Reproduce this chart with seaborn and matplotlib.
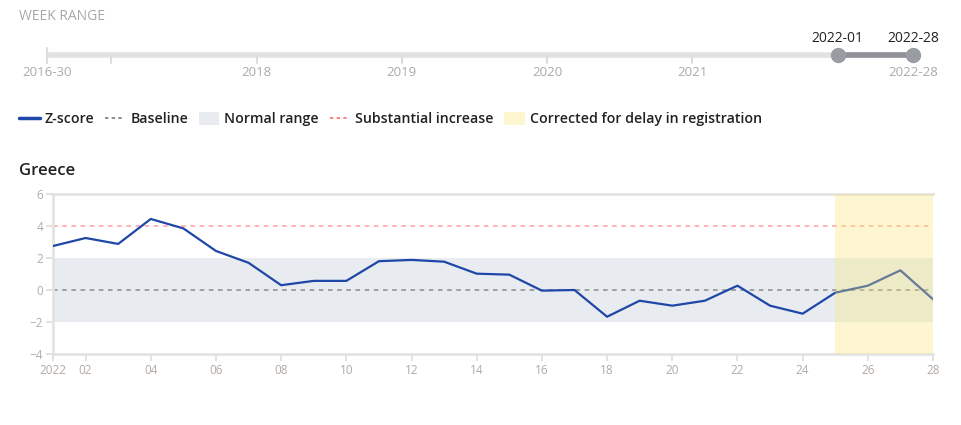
import matplotlib
matplotlib.use('Agg')
import matplotlib.pyplot as plt
import seaborn as sns
import pandas as pd
from matplotlib.lines import Line2D
from matplotlib.patches import Patch

# Z-score data, Greece, weeks 2022-01 .. 2022-28
weeks = list(range(1, 29))
zscore = [2.75, 3.25, 2.88, 4.44, 3.85, 2.44, 1.70, 0.30, 0.57, 0.57,
          1.80, 1.88, 1.77, 1.02, 0.96, -0.04, 0.00, -1.67, -0.67, -0.98,
          -0.67, 0.27, -0.98, -1.48, -0.17, 0.27, 1.23, -0.58]
tick_weeks = [1] + list(range(2, 29, 2))
tick_labels = ['2022'] + [f'{w:02d}' for w in range(2, 29, 2)]
normal_range = (-2, 2)
baseline = 0
substantial = 4
corrected_weeks = (25, 28)

# Week range slider (fractional years)
slider_start = 2016 + 29 / 52
slider_end = 2022 + 27 / 52
slider_years = [2017, 2018, 2019, 2020, 2021]
slider_labels = ['', '2018', '2019', '2020', '2021']
sel_start, sel_end = 2022.0, 2022 + 27 / 52
sel_labels = ['2022-01', '2022-28']

sns.set_style('white')
plt.rcParams['font.family'] = ['Open Sans', 'DejaVu Sans']

W, H = 961, 425
fig = plt.figure(figsize=(W / 100, H / 100), dpi=100)

tick_col = '#b3aaa3'
blue = '#1f47a8'

# Header text
fig.text(19 / W, 1 - 16 / H, 'WEEK RANGE', fontsize=10, color='#a8a8a8', va='center')

# Slider
ax_s = fig.add_axes([47 / W, 1 - 80 / H, (913 - 47) / W, 50 / H])
ax_s.set_xlim(slider_start, slider_end)
ax_s.set_ylim(80, 30)
ax_s.axis('off')
ax_s.plot([slider_start, slider_end], [55, 55], color='#e2e2e2', lw=4,
          solid_capstyle='butt', clip_on=False)
ax_s.plot([slider_start, slider_start], [48, 63], color='#dcdcdc', lw=1.5, clip_on=False)
for yr, lab in zip(slider_years, slider_labels):
    ax_s.plot([yr, yr], [57, 63], color='#dcdcdc', lw=1.5, clip_on=False)
    if lab:
        ax_s.text(yr, 72, lab, ha='center', va='center', fontsize=9.5, color='#aaaaaa')
ax_s.text(slider_start, 73, '2016-30', ha='center', va='center', fontsize=9.5, color='#aaaaaa')
ax_s.plot([sel_start, sel_end], [55, 55], color='#8f9197', lw=4, clip_on=False)
ax_s.plot([sel_start, sel_end], [55, 55], 'o', color='#9a9ca3', ms=10, clip_on=False)
ax_s.text(sel_start, 38, sel_labels[0], ha='center', va='center', fontsize=10, color='#222222')
ax_s.text(sel_end, 38, sel_labels[1], ha='center', va='center', fontsize=10, color='#222222')
ax_s.text(sel_end, 73, sel_labels[1], ha='center', va='center', fontsize=9.5, color='#aaaaaa')

# Main chart
ax = fig.add_axes([53 / W, 1 - 354 / H, (933 - 53) / W, 160 / H])
ax.axhspan(*normal_range, color='#e8ecf0', lw=0, zorder=1)
ax.axhline(baseline, color='#8a8a8a', lw=1.1, ls=(0, (3, 3)), zorder=2)
ax.axhline(substantial, color='#ff9f9f', lw=1.1, ls=(0, (3, 3)), zorder=2)
df = pd.DataFrame({'week': weeks, 'z': zscore})
sns.lineplot(data=df, x='week', y='z', color=blue, lw=1.6, ax=ax, zorder=3)
ax.axvspan(*corrected_weeks, color=(249 / 255, 230 / 255, 118 / 255), alpha=0.33, lw=0, zorder=5)

ax.set_xlim(1, 28)
ax.set_ylim(-4, 6)
ax.set_xticks(tick_weeks)
ax.set_xticklabels(tick_labels)
ax.set_yticks([-4, -2, 0, 2, 4, 6])
ax.set_xlabel('')
ax.set_ylabel('')
ax.tick_params(axis='both', colors='#dddddd', labelcolor=tick_col, labelsize=8.5,
               length=5, width=1.2, pad=2, left=True, bottom=True)
for s in ['left', 'bottom', 'top']:
    ax.spines[s].set_color('#e3e3e3')
    ax.spines[s].set_linewidth(2)
ax.spines['right'].set_visible(False)

fig.text(19 / W, 1 - 171 / H, 'Greece', fontsize=12, fontweight='semibold', color='#222222', va='center')

# Legend
handles = [
    Line2D([], [], color=blue, lw=2.5),
    Line2D([], [], color='#777777', lw=1.2, ls=(0, (2, 2))),
    Patch(facecolor='#e8ecf0', edgecolor='none'),
    Line2D([], [], color='#ff6b6b', lw=1.2, ls=(0, (2, 2))),
    Patch(facecolor='#fdf6d0', edgecolor='none'),
]
labels = ['Z-score', 'Baseline', 'Normal range', 'Substantial increase',
          'Corrected for delay in registration']
leg = fig.legend(handles, labels, loc='center left', bbox_to_anchor=(19 / W, 1 - 119 / H),
                 ncol=5, frameon=False, handlelength=1.45, handleheight=1.1, handletextpad=0.35,
                 columnspacing=0.75, borderpad=0, borderaxespad=0,
                 prop={'size': 10.2, 'weight': 'semibold'})
for t in leg.get_texts():
    t.set_color('#222222')

fig.savefig('out.png', dpi=100)
